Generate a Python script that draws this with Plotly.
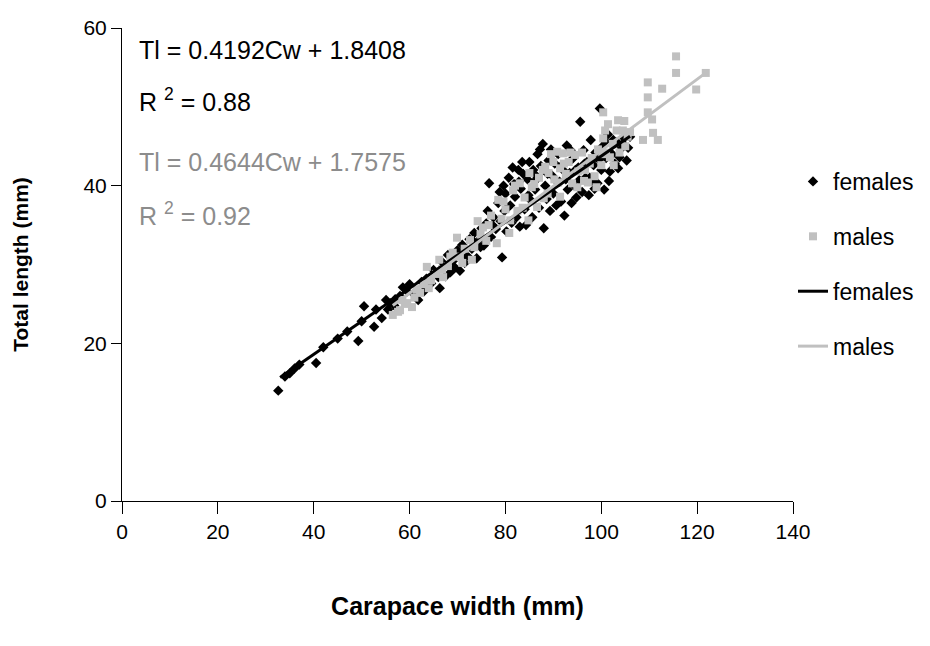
import plotly.graph_objects as go

# ---------------- data ----------------
female_x = [32.6, 34, 35, 36, 37, 40.5, 42, 45, 47, 49.3, 50.5, 50, 52.6, 53, 54.2, 55.1, 56, 57,
            58.6, 59.5, 60, 61.8, 62.5, 63.5, 64.5, 65, 66.3, 67, 67.5, 68, 69, 69.5, 70, 70.5, 71,
            71.5, 72, 72.5, 73, 73.5, 74, 74.5, 75, 75.5, 76, 76.6, 77, 77.5, 78, 78.5, 79.3, 79,
            79.8, 80, 80.2, 80.7, 81, 81.3, 81.8, 82, 82.3, 82.7, 83, 83.2, 83.7, 84, 84.3, 84.6,
            85, 85.2, 85.6, 86, 86.2, 86.7, 87, 87.4, 87.8, 88, 88.3, 88.6, 89, 89.3, 89.7, 90,
            90.3, 90.6, 91, 91.3, 91.6, 92, 92.3, 92.8, 93, 93.4, 93.8, 94, 94.4, 94.8, 95.2, 95.6,
            96, 96.3, 96.7, 97, 97.4, 97.8, 98, 98.4, 98.8, 99.2, 99.7, 100, 100.3, 100.6, 101,
            101.4, 101.8, 102.3, 102.8, 103.3, 103.8, 104.3, 104.8, 105.3, 105.6, 106,
            78.8, 79.6, 80.4, 81.5, 82.8, 83.5, 84.8, 85.8, 86.5, 87.2, 88.8, 89.5, 90.8, 91.8,
            92.6, 93.6, 94.6, 95.4, 96.5, 97.6, 98.6, 99.5, 100.8, 101.6, 102.5, 103.5, 104.5,
            76.3, 77.3, 74.8, 73.2, 70.8, 68.5, 66, 63, 60.8, 58, 56.8, 55.5]
female_y = [14.0, 15.8, 16.2, 16.8, 17.3, 17.5, 19.5, 20.6, 21.5, 20.3, 24.7, 22.8, 22.1, 24.3, 23.2,
            25.5, 25.1, 25.6, 27.1, 26.6, 27.5, 25.5, 27.8, 28.2, 27.6, 29.3, 27.0, 30.2, 28.5, 31.2,
            30.4, 29.6, 31.8, 29.2, 32.5, 30.2, 31.1, 33.2, 32.0, 34.0, 30.8, 33.1, 34.6, 32.4, 35.2,
            40.3, 33.5, 36.0, 34.5, 37.8, 30.9, 35.5, 36.8, 39.0, 34.2, 41.0, 37.5, 35.3, 40.2, 38.6,
            36.0, 42.0, 34.8, 39.6, 41.5, 37.0, 35.0, 40.8, 43.0, 38.2, 36.0, 41.5, 39.5, 44.0, 37.2,
            42.5, 45.3, 34.6, 40.0, 38.3, 43.2, 36.8, 41.3, 39.0, 42.8, 37.5, 44.0, 40.5, 38.0, 42.0,
            36.2, 45.1, 39.5, 41.6, 37.8, 43.4, 40.0, 38.5, 42.3, 48.1, 39.2, 44.5, 41.0, 43.0, 38.8,
            45.8, 40.6, 42.6, 44.2, 40.3, 49.8, 42.0, 45.0, 39.5, 43.5, 46.5, 41.8, 44.0, 42.8, 45.5,
            43.6, 44.8, 46.0, 43.2, 44.8, 46.2,
            39.2, 40.0, 37.2, 42.3, 40.5, 43.0, 38.8, 42.0, 40.8, 44.6, 41.5, 44.6, 40.5, 42.6,
            40.8, 44.5, 42.0, 40.7, 42.8, 41.0, 39.6, 43.3, 45.6, 40.6, 45.8, 42.2, 45.3,
            36.8, 35.0, 32.2, 33.0, 31.2, 29.0, 28.4, 26.6, 26.3, 26.0, 24.8, 24.3]

male_x = [56.5, 57.6, 58.0, 58.5, 59.5, 60.5, 61.5, 62.2, 63, 63.6, 64.5, 65.5, 66.2, 67, 68, 69,
          69.9, 70.5, 71.5, 72.6, 73.5, 74.2, 75.3, 76, 77, 78.2, 78.5, 79.2, 80, 80.8, 81.6, 82.5,
          83, 84, 84.8, 85.5, 86.6, 87, 87.8, 88.3, 88.8, 89.5, 90.2, 90.8, 91.4, 91.4, 92, 92.6,
          93.2, 93.9, 94.5, 95.2, 96, 96.6, 97.2, 98, 98.6, 99.3, 100, 100.4, 100.4, 100.8, 101,
          101.8, 102.4, 103.2, 103.5, 104.5, 105, 106, 108.7, 109.7, 109.7, 109.7, 110.6, 110.8,
          111.8, 112.7, 115.6, 115.6, 119.8, 121.8,
          79.6, 81, 82, 83.6, 85, 86, 88, 89, 90, 91, 92.2, 93.6, 95, 96.4, 97.6, 99, 100.2,
          101.4, 102.6, 103.8, 104.8, 105.5, 76.5, 74.8, 73, 71, 68.5, 66.8, 64, 61, 59]
male_y = [23.6, 24.0, 24.2, 25.5, 25.1, 24.6, 26.8, 26.4, 27.5, 29.7, 28.0, 28.8, 30.6, 28.4, 29.8,
          31.5, 33.4, 31.0, 32.0, 33.1, 32.2, 35.5, 34.7, 33.0, 36.2, 32.7, 38.2, 35.8, 37.0, 34.0,
          39.4, 36.8, 40.3, 38.5, 35.6, 39.8, 37.3, 41.0, 42.0, 42.4, 39.0, 44.0, 40.8, 44.3, 42.2,
          38.6, 44.1, 41.5, 43.0, 40.3, 43.9, 41.8, 44.2, 42.0, 40.4, 43.5, 41.2, 44.6, 42.6, 49.3,
          46.0, 47.0, 44.2, 43.6, 45.3, 47.0, 48.3, 47.0, 45.0, 46.8, 45.8, 49.3, 51.2, 53.1, 48.4,
          46.7, 45.8, 52.3, 54.3, 56.4, 52.2, 54.3,
          38.0, 35.6, 40.0, 37.2, 41.6, 40.2, 38.4, 41.6, 43.0, 40.4, 42.8, 44.2, 39.8, 40.6,
          42.8, 39.8, 44.0, 47.8, 42.6, 44.2, 48.2, 46.2, 35.0, 33.8, 30.6, 30.2, 31.0, 29.4,
          27.0, 25.8, 25.0]

# fitted trend lines (end points as drawn)
female_fit_x = [33, 106]
female_fit_y = [15.67, 46.28]
male_fit_x = [56.5, 122]
male_fit_y = [24.8, 54.4]

x_ticks = [0, 20, 40, 60, 80, 100, 120, 140]
y_ticks = [0, 20, 40, 60]

FONT = "Liberation Sans, Arial, sans-serif"
GREY_MARK = "#c0c0c0"
GREY_TEXT = "#8c8c8c"

fig = go.Figure()
fig.add_trace(go.Scatter(x=female_x, y=female_y, mode="markers", name="females",
                         legendgroup="a",
                         marker=dict(symbol="diamond", size=8, color="black")))
fig.add_trace(go.Scatter(x=male_x, y=male_y, mode="markers", name="males",
                         legendgroup="b",
                         marker=dict(symbol="square", size=8, color=GREY_MARK)))
fig.add_trace(go.Scatter(x=female_fit_x, y=female_fit_y, mode="lines", name="females",
                         legendgroup="c",
                         line=dict(color="black", width=3)))
fig.add_trace(go.Scatter(x=male_fit_x, y=male_fit_y, mode="lines", name="males",
                         legendgroup="d",
                         line=dict(color=GREY_MARK, width=3)))

# plot area in page pixels: x 122..793, y 28..501 (page has an 8px body margin)
annotations = [
    dict(text="Tl = 0.4192Cw + 1.8408", x=137, y=50, color="black"),
    dict(text="R <sup>2</sup> = 0.88", x=137, y=100, color="black"),
    dict(text="Tl = 0.4644Cw + 1.7575", x=137, y=162, color=GREY_TEXT),
    dict(text="R <sup>2</sup> = 0.92", x=137, y=214, color=GREY_TEXT),
]
for a in annotations:
    fig.add_annotation(text=a["text"], xref="paper", yref="paper",
                       x=(a["x"] - 122) / 671, y=(501 - a["y"]) / 473,
                       xanchor="left", yanchor="middle", showarrow=False,
                       font=dict(family=FONT, size=25, color=a["color"]))

fig.update_layout(
    width=922, height=638,
    margin=dict(l=114, r=137, t=20, b=145, autoexpand=False),
    paper_bgcolor="white", plot_bgcolor="white",
    font=dict(family=FONT, size=21, color="black"),
    legend=dict(x=1.0, y=0.721, xanchor="left", yanchor="top",
                traceorder="grouped", tracegroupgap=22,
                font=dict(family=FONT, size=23), bgcolor="rgba(0,0,0,0)"),
    showlegend=True,
)
fig.update_xaxes(range=[0, 140], tickvals=x_ticks, ticks="outside", ticklen=12,
                 tickcolor="black", showline=True, linecolor="black", linewidth=1,
                 showgrid=False, zeroline=False, ticklabelstandoff=0,
                 tickfont=dict(family=FONT, size=21),
                 title=dict(text="<b>Carapace width (mm)</b>", standoff=55,
                            font=dict(family=FONT, size=25)))
fig.update_yaxes(range=[0, 60], tickvals=y_ticks, ticks="outside", ticklen=10,
                 tickcolor="black", showline=True, linecolor="black", linewidth=1,
                 showgrid=False, zeroline=False, ticklabelstandoff=0,
                 tickfont=dict(family=FONT, size=21),
                 title=dict(text="<b>Total length (mm)</b>", standoff=49,
                            font=dict(family=FONT, size=21)))

fig.write_html("out.html")
